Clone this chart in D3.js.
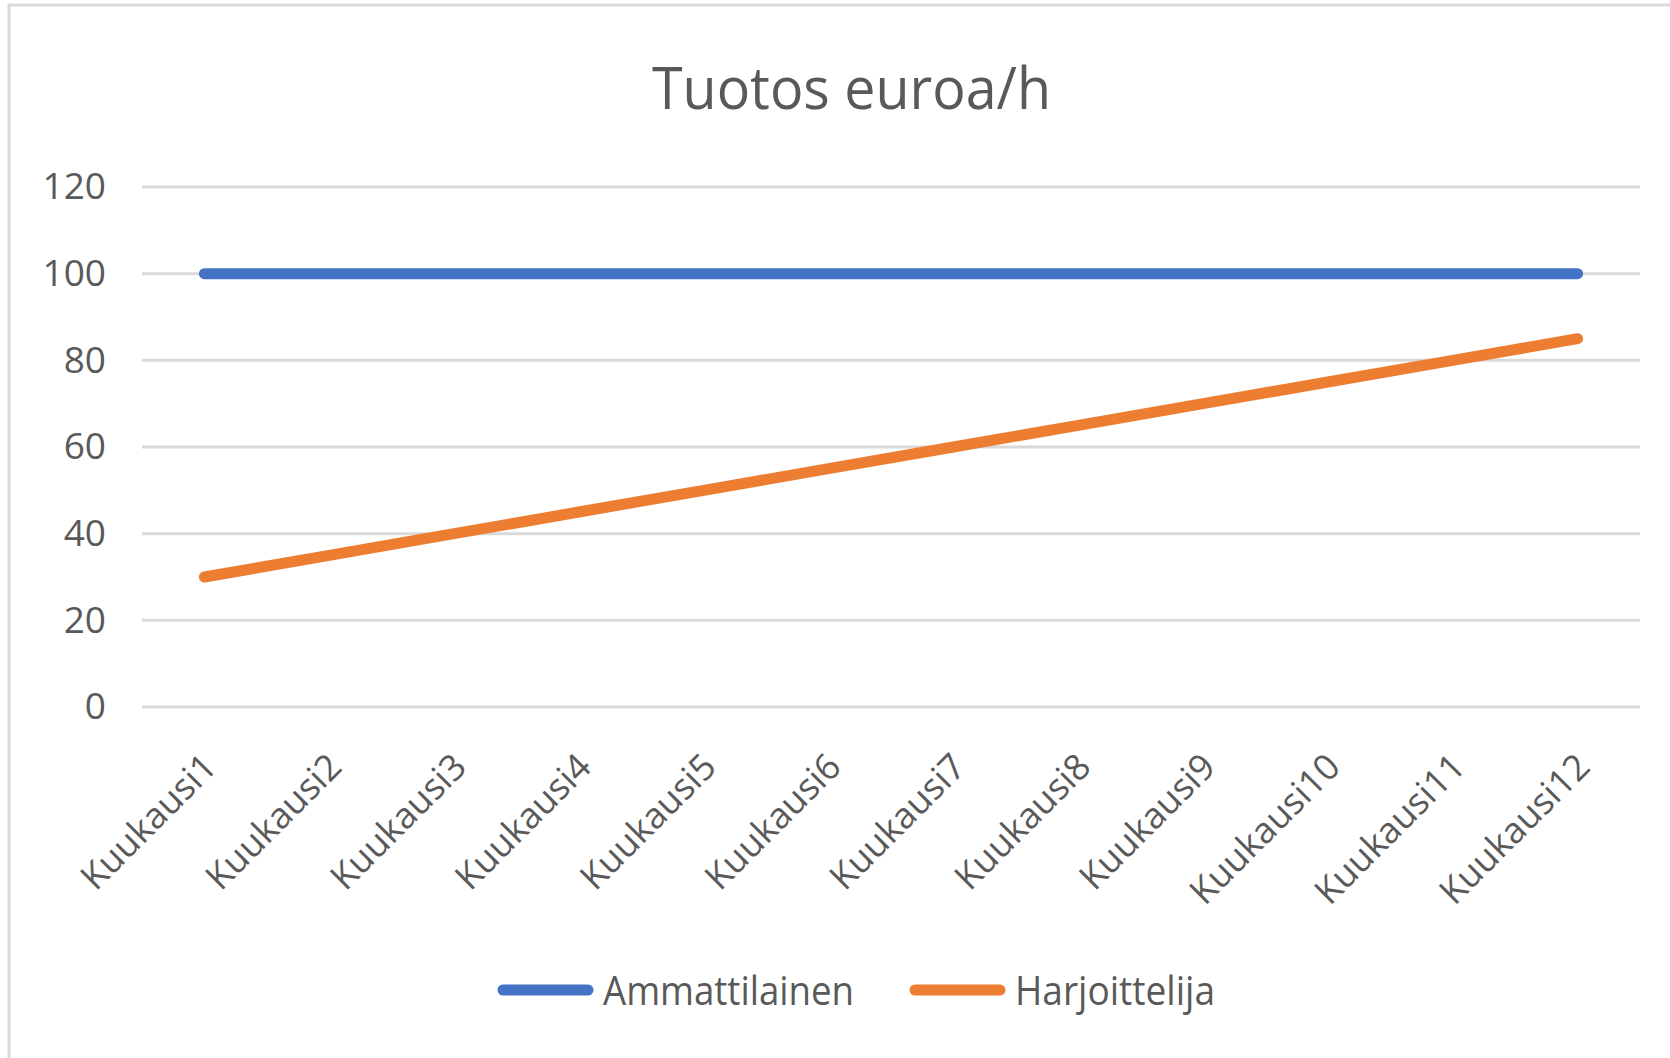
<!DOCTYPE html>
<meta charset="utf-8">
<style>
body { margin: 0; background: #fff; }
text { font-family: 'Open Sans', sans-serif; fill: #595959; }
.grid line { stroke: #d9d9d9; stroke-width: 3px; }
.line { fill: none; stroke-width: 11px; stroke-linecap: round; stroke-linejoin: round; }
</style>
<body>
<script src="https://d3js.org/d3.v7.min.js"></script>
<script>

// chart data
var months = ["Kuukausi1", "Kuukausi2", "Kuukausi3", "Kuukausi4", "Kuukausi5", "Kuukausi6",
              "Kuukausi7", "Kuukausi8", "Kuukausi9", "Kuukausi10", "Kuukausi11", "Kuukausi12"];
var ammattilainen = [100, 100, 100, 100, 100, 100, 100, 100, 100, 100, 100, 100];
var harjoittelija = [30, 35, 40, 45, 50, 55, 60, 65, 70, 75, 80, 85];
var yTicks = [0, 20, 40, 60, 80, 100, 120];
var seriesNames = ["Ammattilainen", "Harjoittelija"];
var colors = ["#4472C4", "#ED7D31"];

var W = 1670, H = 1058;
var margin = {top: 187, left: 142, right: 30, bottom: 351};
var width = W - margin.left - margin.right,
    height = H - margin.top - margin.bottom;

var svg = d3.select("body").append("svg")
    .attr("width", W)
    .attr("height", H);

// chart border (only top and left visible in the screenshot)
svg.append("path")
    .attr("d", "M9," + H + "V5H" + W)
    .attr("fill", "none")
    .attr("stroke", "#d9d9d9")
    .attr("stroke-width", 3);

// title
svg.append("text")
    .attr("x", 652)
    .attr("y", 109)
    .attr("textLength", 399)
    .attr("lengthAdjust", "spacingAndGlyphs")
    .style("font-size", "58px")
    .text("Tuotos euroa/h");

var g = svg.append("g")
    .attr("transform", "translate(" + margin.left + "," + margin.top + ")");

var x = d3.scalePoint().domain(months).range([0, width]).padding(0.5);
var y = d3.scaleLinear().domain([0, 120]).range([height, 0]);

// gridlines
g.append("g").attr("class", "grid")
  .selectAll("line")
  .data(yTicks)
  .enter().append("line")
    .attr("x1", 0).attr("x2", width)
    .attr("y1", function(d) { return y(d); })
    .attr("y2", function(d) { return y(d); });

// y axis labels
var yAxis = g.append("g")
    .call(d3.axisLeft(y).tickValues(yTicks).tickSize(0).tickPadding(36));
yAxis.select(".domain").remove();
yAxis.selectAll("text")
    .attr("fill", "#595959")
    .style("font-size", "37px")
    .style("font-family", "'Open Sans', sans-serif");

// x axis labels
var xAxis = g.append("g")
    .attr("transform", "translate(0," + height + ")")
    .call(d3.axisBottom(x).tickSize(0));
xAxis.select(".domain").remove();
xAxis.selectAll("text")
    .attr("fill", "#595959")
    .style("font-size", "36px")
    .style("font-family", "'Open Sans', sans-serif")
    .style("text-anchor", "end")
    .attr("y", 0)
    .attr("dy", 0)
    .attr("transform", "translate(14,62) rotate(-45)");

// lines
var series = [ammattilainen, harjoittelija];
var line = d3.line()
    .x(function(d, i) { return x(months[i]); })
    .y(function(d) { return y(d); });

series.forEach(function(s, k) {
  g.append("path")
      .datum(s)
      .attr("class", "line")
      .attr("stroke", colors[k])
      .attr("d", line);
});

// legend
var legendX = [498, 910];
var legendW = [251, 200];
var legend = svg.append("g");
seriesNames.forEach(function(name, k) {
  legend.append("line")
      .attr("x1", legendX[k] + 5).attr("x2", legendX[k] + 90)
      .attr("y1", 990).attr("y2", 990)
      .attr("stroke", colors[k])
      .attr("stroke-width", 11)
      .attr("stroke-linecap", "round");
  legend.append("text")
      .attr("x", legendX[k] + 105)
      .attr("y", 1005)
      .attr("textLength", legendW[k])
      .attr("lengthAdjust", "spacingAndGlyphs")
      .style("font-size", "40px")
      .text(name);
});

</script>
</body>
